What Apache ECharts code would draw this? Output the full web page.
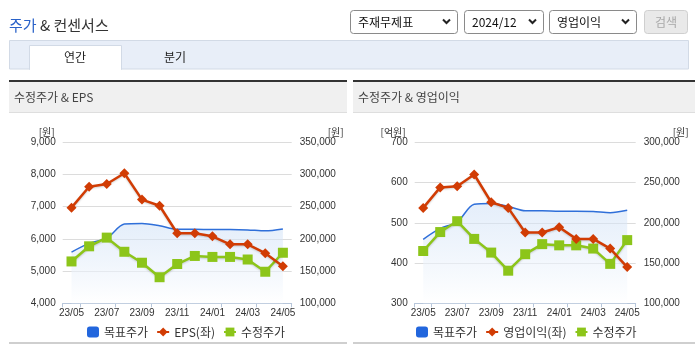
<!DOCTYPE html>
<html>
<head>
<meta charset="utf-8">
<script src="https://cdn.jsdelivr.net/npm/echarts@6/dist/echarts.min.js"></script>
<style>
html,body{margin:0;padding:0;background:#fff;}
#c{width:695px;height:349px;}
</style>
</head>
<body>
<div id="c"></div>
<script>
// ---- data ----
const categories = ['23/05','23/06','23/07','23/08','23/09','23/10','23/11','23/12','24/01','24/02','24/03','24/04','24/05'];
const targetPrice = [179500,193000,201000,223000,224000,220500,215000,215000,214500,214500,214000,212500,215500];
const adjPrice = [165000,188500,202000,180000,163000,140500,161000,173500,172000,172000,168000,149000,178500];
const eps = [6970,7620,7705,8040,7220,7030,6175,6175,6080,5830,5830,5555,5150];
const opProfit = [537,588,591,620,551,537,476,476,489,460,460,436,390];
const epsAxisTicks = [4000, 9000, 1000];
const priceAxisTicksL = [100000, 350000, 50000];
const opAxisTicks = [300, 700, 100];
const priceAxisTicksR = [100000, 300000, 50000];

const NUMFONT = "'Liberation Sans Narrow','Arial Narrow','Liberation Sans',Arial,sans-serif";
const KFONT = "'Noto Sans CJK KR','Noto Sans',sans-serif";
const BLUE = '#2f6fd9', RED = '#d13c04', GREEN = '#8cc51a';

const chart = echarts.init(document.getElementById('c'), null, {renderer:'canvas'});

function xAxis(gi){
  return {
    type:'category', gridIndex:gi, data:categories, boundaryGap:true,
    axisLine:{lineStyle:{color:'#b7c6da',width:1}},
    axisTick:{show:true,length:4,lineStyle:{color:'#b7c6da'},interval:(i)=> i===0 || i%2===1},
    axisLabel:{interval:(i)=> i%2===0, color:'#333', fontSize:10, fontFamily:NUMFONT, margin:5},
    splitLine:{show:false}
  };
}
function yAxis(gi, t, pos, name, pad, showSplit){
  return {
    type:'value', gridIndex:gi, position:pos, min:t[0], max:t[1], interval:t[2],
    name:name, nameLocation:'end', nameGap:4,
    nameTextStyle:{color:'#333',fontSize:10,fontFamily:KFONT,align:pos==='left'?'right':'left',verticalAlign:'bottom',padding:pad},
    axisLine:{show:false}, axisTick:{show:false},
    axisLabel:{color:'#333',fontSize:10,fontFamily:NUMFONT,margin:pos==='left'?7:8},
    splitLine:{show:showSplit,lineStyle:{color:'#dcdcdc',width:1}}
  };
}
const areaGrad = new echarts.graphic.LinearGradient(0,0,0,1,[
  {offset:0,color:'rgba(205,223,246,0.75)'},
  {offset:1,color:'rgba(255,255,255,0.9)'}
]);
function targetSeries(xi, yi){
  return {name:'목표주가', type:'line', xAxisIndex:xi, yAxisIndex:yi, data:targetPrice,
    smooth:0.3, showSymbol:false, symbol:'none', lineStyle:{color:BLUE,width:1.5},
    itemStyle:{color:BLUE}, areaStyle:{color:areaGrad, origin:'start'}, z:1};
}
function redSeries(name, data, xi, yi){
  return {name:name, type:'line', xAxisIndex:xi, yAxisIndex:yi, data:data,
    symbol:'diamond', symbolSize:10, lineStyle:{color:RED,width:2.5,shadowColor:'rgba(0,0,0,0.18)',shadowBlur:2,shadowOffsetY:1},
    itemStyle:{color:RED}, z:3};
}
function greenSeries(xi, yi){
  return {name:'수정주가', type:'line', xAxisIndex:xi, yAxisIndex:yi, data:adjPrice,
    symbol:'rect', symbolSize:10, lineStyle:{color:GREEN,width:2.5,shadowColor:'rgba(0,0,0,0.18)',shadowBlur:2,shadowOffsetY:1},
    itemStyle:{color:GREEN}, z:2};
}
function legend(left, redName){
  return {left:left, top:321, itemWidth:12, itemHeight:11, itemGap:8,
    textStyle:{color:'#333',fontSize:12,fontFamily:KFONT},
    data:[{name:'목표주가',icon:'roundRect',itemStyle:{color:'#2266dd'}}, {name:redName}, {name:'수정주가'}]};
}

function selectBox(x,w,label){
  return [
    {type:'rect',shape:{x:x+0.5,y:10.5,width:w,height:23,r:3},style:{fill:'#fff',stroke:'#8a8a8a',lineWidth:1}},
    {type:'text',x:x+8,y:22,style:{text:label,fill:'#111',font:'12px '+KFONT,verticalAlign:'middle'}},
    {type:'polyline',shape:{points:[[x+w-14,19.5],[x+w-10.5,23],[x+w-7,19.5]]},style:{stroke:'#222',lineWidth:2,fill:null}}
  ];
}
function panel(x,w,title){
  return [
    {type:'rect',shape:{x:x,y:80,width:w,height:2},style:{fill:'#333'}},
    {type:'rect',shape:{x:x,y:82,width:w,height:30},style:{fill:'#f0f0f0'}},
    {type:'rect',shape:{x:x,y:112,width:w,height:1},style:{fill:'#dedede'}},
    {type:'text',x:x+5,y:97.5,style:{text:title,fill:'#444',font:'12px '+KFONT,verticalAlign:'middle'}},
    {type:'rect',shape:{x:x,y:342,width:w,height:2},style:{fill:'#cfcfcf'}}
  ];
}

const graphics = [].concat(
  [{type:'text',x:9,y:25,style:{text:'{a|주가} {b|& 컨센서스}',verticalAlign:'middle',
     rich:{a:{fill:'#2a62c9',font:'15px '+KFONT},b:{fill:'#333',font:'15px '+KFONT}}}}],
  selectBox(350,107,'주재무제표'),
  selectBox(464,79,'2024/12'),
  selectBox(549,87,'영업이익'),
  [
    {type:'rect',shape:{x:644.5,y:10.5,width:43,height:23,r:3},style:{fill:'#e9e9e9',stroke:'#cfcfcf',lineWidth:1}},
    {type:'text',x:666,y:22,style:{text:'검색',fill:'#a8a8a8',font:'12px '+KFONT,align:'center',verticalAlign:'middle'}},
    {type:'rect',shape:{x:9.5,y:40.5,width:679,height:28.5},style:{fill:'#e8eef8',stroke:'#d2dae6',lineWidth:1}},
    {type:'rect',shape:{x:29.5,y:45.5,width:92,height:24},style:{fill:'#fff',stroke:'#d2dae6',lineWidth:1}},
    {type:'rect',shape:{x:30,y:68,width:91,height:3},style:{fill:'#fff'}},
    {type:'text',x:75,y:57,style:{text:'연간',fill:'#222',font:'12px '+KFONT,align:'center',verticalAlign:'middle'}},
    {type:'text',x:175,y:57,style:{text:'분기',fill:'#222',font:'12px '+KFONT,align:'center',verticalAlign:'middle'}}
  ],
  panel(9,338,'수정주가 & EPS'),
  panel(353,342,'수정주가 & 영업이익')
);

const option = {
  animation:false,
  backgroundColor:'#fff',
  textStyle:{fontFamily:KFONT},
  grid:[
    {left:62.7, top:142.3, width:229, height:161, containLabel:false},
    {left:414.7, top:142.3, width:221, height:161, containLabel:false}
  ],
  xAxis:[xAxis(0), xAxis(1)],
  yAxis:[
    yAxis(0, epsAxisTicks, 'left', '[원]', [0,8,0,0], true),
    yAxis(0, priceAxisTicksL, 'right', '[원]', [0,0,0,36], false),
    yAxis(1, opAxisTicks, 'left', '[억원]', [0,9,0,0], true),
    yAxis(1, priceAxisTicksR, 'right', '[원]', [0,0,0,37], false)
  ],
  legend:[legend(82,'EPS(좌)'), legend(411,'영업이익(좌)')],
  series:[
    targetSeries(0,1), redSeries('EPS(좌)', eps, 0, 0), greenSeries(0,1),
    targetSeries(1,3), redSeries('영업이익(좌)', opProfit, 1, 2), greenSeries(1,3)
  ],
  graphic:graphics
};
chart.setOption(option);
</script>
</body>
</html>
